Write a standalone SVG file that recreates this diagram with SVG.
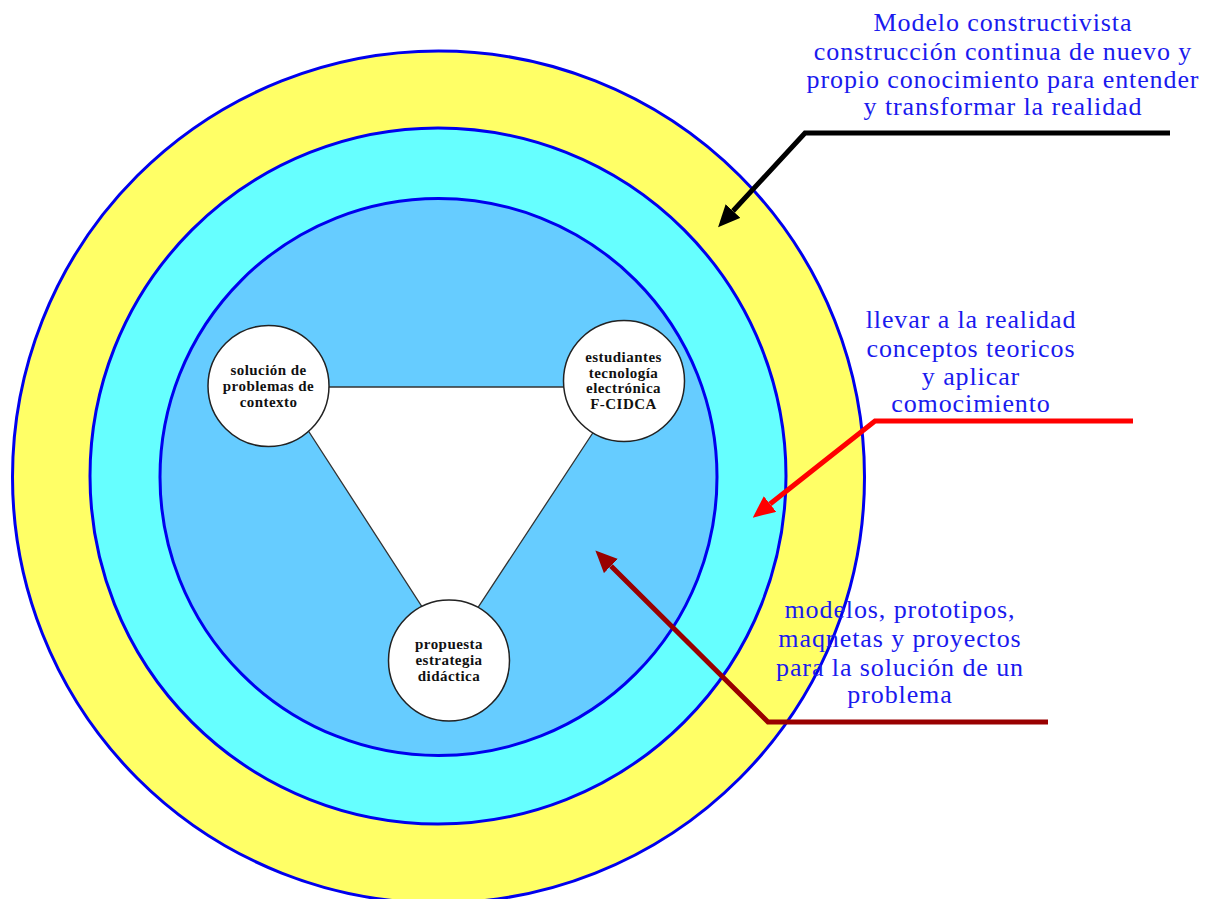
<svg xmlns="http://www.w3.org/2000/svg" width="1211" height="899" viewBox="0 0 1211 899">
<style>
.ring{stroke:#0000ee;stroke-width:3}
.node circle{fill:#fff;stroke:#222;stroke-width:1.5}
.node text{font-family:"Liberation Serif","Times New Roman",serif;font-weight:bold;font-size:15px;fill:#111;text-anchor:middle;letter-spacing:0.45px}
.lbl{font-family:"Liberation Serif","Times New Roman",serif;font-size:26px;fill:#1a1aee;text-anchor:middle;letter-spacing:0.9px}
.conn{fill:none;stroke-width:5;stroke-linejoin:miter}
</style>
<defs>
<marker id="ahBlack" viewBox="0 -10 22 20" refX="0" refY="0" markerWidth="22" markerHeight="20" markerUnits="userSpaceOnUse" orient="auto"><path d="M0,-10 L22,0 L0,10 z" fill="#000"/></marker>
<marker id="ahRed" viewBox="0 -10 22 20" refX="0" refY="0" markerWidth="22" markerHeight="20" markerUnits="userSpaceOnUse" orient="auto"><path d="M0,-10 L22,0 L0,10 z" fill="#ff0000"/></marker>
<marker id="ahDark" viewBox="0 -10 22 20" refX="0" refY="0" markerWidth="22" markerHeight="20" markerUnits="userSpaceOnUse" orient="auto"><path d="M0,-10 L22,0 L0,10 z" fill="#990000"/></marker>
</defs>
<rect width="1211" height="899" fill="#fff"/>
<g id="rings">
<circle class="ring" cx="438.5" cy="477" r="426" fill="#ffff66"/>
<circle class="ring" cx="438" cy="476" r="348" fill="#66ffff"/>
<circle class="ring" cx="438.5" cy="477" r="278.5" fill="#66ccff"/>
</g>
<g id="connectors">
<polygon points="280,387 623,387 450,650" fill="#fff" stroke="#333" stroke-width="1.3"/>
<path class="conn" stroke="#000" d="M1170,133 L805,133 L733,211" marker-end="url(#ahBlack)"/>
<path class="conn" stroke="#ff0000" d="M1133,421 L875,421 L770,504" marker-end="url(#ahRed)"/>
<path class="conn" stroke="#990000" d="M1048,722 L768,722 L611,566" marker-end="url(#ahDark)"/>
</g>
<g id="node-solucion" class="node">
<circle cx="268.5" cy="386" r="60.5"/>
<text x="268.5" y="375">solución de</text>
<text x="268.5" y="391">problemas de</text>
<text x="268.5" y="407">contexto</text>
</g>
<g id="node-estudiantes" class="node">
<circle cx="624" cy="381" r="60.5"/>
<text x="623.5" y="362">estudiantes</text>
<text x="623.5" y="377.5">tecnología</text>
<text x="623.5" y="393">electrónica</text>
<text x="623.5" y="409">F-CIDCA</text>
</g>
<g id="node-propuesta" class="node">
<circle cx="449" cy="660.5" r="60.5"/>
<text x="449" y="649">propuesta</text>
<text x="449" y="665">estrategia</text>
<text x="449" y="681">didáctica</text>
</g>
<g id="label-modelo">
<text class="lbl" x="1003" y="31">Modelo constructivista</text>
<text class="lbl" x="1003" y="60">construcción continua de nuevo y</text>
<text class="lbl" x="1003" y="88">propio conocimiento para entender</text>
<text class="lbl" x="1003" y="115">y transformar la realidad</text>
</g>
<g id="label-llevar">
<text class="lbl" x="971" y="328">llevar a la realidad</text>
<text class="lbl" x="971" y="357">conceptos teoricos</text>
<text class="lbl" x="971" y="385">y aplicar</text>
<text class="lbl" x="971" y="412">comocimiento</text>
</g>
<g id="label-modelos">
<text class="lbl" x="900" y="618">modelos, prototipos,</text>
<text class="lbl" x="900" y="647">maqnetas y proyectos</text>
<text class="lbl" x="900" y="676">para la solución de un</text>
<text class="lbl" x="900" y="703">problema</text>
</g>
</svg>
